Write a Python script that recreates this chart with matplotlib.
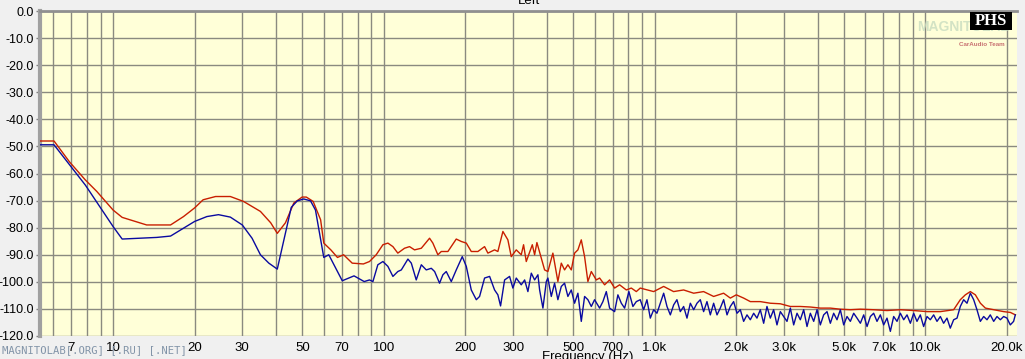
import matplotlib
matplotlib.use("Agg")
import matplotlib.pyplot as plt
from matplotlib.patches import Rectangle

# --- data (frequency in Hz, level in dB)
red_freq = [5.0, 6.05, 6.9, 7.9, 8.7, 10.0, 10.8, 13.3, 16.3, 18.2, 20.0, 21.5, 23.9, 27.1,
            30.3, 35.0, 38.2, 40.4, 43.3, 46.5, 49.9, 51.7, 54.8, 58.4, 60.0, 63.7, 67.4,
            71.0, 76.4, 84.0,
            88.5, 93.7, 99.2, 103.5, 108.0, 112.6, 119.2, 124.4, 129.8, 137.5, 147.5, 151.7,
            158.3, 163.0, 172.4, 185.1, 193.2, 201.6, 210.3, 222.5, 235.5, 242.2, 256.4,
            263.7, 275.2, 287.1, 295.5, 308.3, 321.7, 328.1, 335.7, 353.4, 360.4, 367.5,
            381.5, 392.4, 403.5, 421.0, 439.3, 452.2, 465.0, 478.3, 492.3, 506.3, 520.8,
            536.0, 551.3, 567.0, 583.7, 609.0, 626.4, 653.6, 682.0, 711.6, 742.5, 786.1,
            820.2, 855.9,
            885, 992, 1080, 1175, 1280, 1394, 1517, 1652, 1798, 1904, 2003, 2132, 2257,
            2457, 2675, 2913, 3172, 3453, 3760, 4093, 4457, 4853, 5284, 5754, 6442, 7220,
            8085, 9057, 10150, 11360, 12720, 13460, 14050, 14660, 15300, 15970, 16660,
            17880, 19470, 20610, 21500]
red_db = [-48.0, -48.0, -55.7, -62.4, -66.6, -73.5, -76.2, -79.0, -79.0, -75.9, -72.7, -69.7,
          -68.5, -68.5, -70.3, -74.0, -78.2, -82.1, -78.2, -70.9, -68.7, -68.7, -70.3, -77.1,
          -85.7, -88.2, -91.0, -90.0, -93.1, -93.4,
          -92.5, -90.0, -86.3, -85.7, -87.0, -89.4, -87.6, -87.0, -88.2, -87.6, -83.9, -85.7,
          -90.0, -88.8, -88.8, -84.2, -85.1, -85.7, -88.8, -88.8, -87.0, -89.4, -88.2,
          -88.8, -81.4, -84.5, -90.7, -88.2, -90.0, -86.3, -92.5, -86.3, -90.0, -85.5,
          -91.3, -95.6, -96.2, -89.4, -99.9, -93.1, -95.6, -93.7, -95.6, -89.4, -88.2,
          -84.5, -90.7, -99.9, -96.2, -99.3, -98.6, -101.1, -99.3, -102.3, -101.1, -103.0,
          -102.3, -103.6,
          -102.3, -103.6, -101.7, -103.6, -103.0, -104.2, -103.6, -105.4, -104.2, -106.0,
          -104.8, -106.0, -107.3, -107.3, -107.9, -108.1, -109.1, -109.1, -109.3, -109.7,
          -109.7, -110.1, -110.3, -110.1, -110.3, -110.6, -110.3, -110.6, -111.0, -111.0,
          -110.3, -106.6, -104.8, -103.6, -104.8, -107.9, -109.7, -110.3, -111.0, -111.3,
          -112.2]

blue_freq = [5.0, 6.05, 7.9, 10.0, 10.8, 14.5, 16.3, 18.2, 20.0, 22.2, 24.5, 27.1, 30.0,
             32.6, 35.0, 37.6, 40.4, 45.5, 47.9, 50.6, 53.6, 55.9, 60.0, 62.6, 70.2, 77.6,
             84.6,
             88.5, 91.1, 95.0, 99.2, 103.5, 108.0, 112.6, 116.0, 122.7, 126.3, 131.7, 137.5,
             143.4, 149.7, 154.0, 160.6, 165.2, 170.0, 177.4, 185.1, 194.8, 201.6, 210.3,
             219.5, 225.7, 235.5, 245.8, 256.4, 263.7, 269.8, 279.2, 291.3, 299.6, 308.3,
             321.7, 331.1, 340.4, 350.4, 360.4, 370.7, 376.1, 386.8, 398.1, 403.5, 415.3,
             427.1, 439.3, 452.2, 465.0, 478.3, 492.3, 506.3, 520.8, 536.0, 551.3, 567.0,
             583.7, 600.1, 626.4, 644.2, 663.1, 682.0, 711.6, 731.8, 753.4, 774.8, 803.5,
             831.4, 855.9,
             885, 911, 937, 964, 992, 1020, 1050, 1080, 1111, 1143, 1176, 1209, 1244, 1280,
             1317, 1355, 1394, 1434, 1475, 1517, 1561, 1606, 1652, 1700, 1748, 1799, 1851,
             1904, 1958, 2015, 2073, 2132, 2194, 2257, 2322, 2388, 2457, 2528, 2600, 2675,
             2752, 2831, 2913, 2997, 3083, 3172, 3263, 3357, 3453, 3553, 3655, 3760, 3869,
             3980, 4093, 4211, 4333, 4457, 4585, 4717, 4853, 4993, 5136, 5284, 5436, 5593,
             5754, 5919, 6090, 6265, 6442, 6628, 6819, 7015, 7217, 7425, 7638, 7858, 8084,
             8317, 8556, 8802, 9055, 9312, 9579, 9855, 10140, 10430, 10730, 11040, 11360,
             11680, 12020, 12360, 12720, 13090, 13460, 13850, 14250, 14660, 15080, 15510,
             15960, 16420, 16890, 17370, 17880, 18390, 18920, 19460, 20020, 20590, 21180,
             21490]
blue_db = [-49.4, -49.4, -64.3, -79.6, -84.2, -83.6, -83.1, -80.2, -77.7, -75.9, -75.2, -76.1,
           -79.0, -83.9, -90.0, -93.1, -95.3, -72.5, -70.1, -69.4, -70.1, -73.5, -91.0, -90.0,
           -99.6, -97.8, -99.9,
           -99.3, -99.9, -93.7, -92.5, -94.3, -98.0, -96.2, -95.6, -91.6, -93.1, -99.3, -93.7,
           -95.6, -95.0, -96.2, -100.5, -97.4, -96.2, -99.9, -95.6, -90.7, -94.3, -103.0,
           -106.6, -105.4, -98.6, -98.0, -103.0, -104.8, -108.9, -99.3, -98.0, -102.3, -98.6,
           -101.1, -99.3, -103.6, -96.8, -99.3, -97.4, -103.0, -109.7, -99.9, -98.6, -105.4,
           -100.5, -106.6, -101.7, -100.5, -105.4, -103.0, -107.9, -104.2, -114.6, -105.4,
           -106.6, -109.1, -106.6, -109.7, -107.3, -103.6, -109.7, -111.0, -104.8, -107.9,
           -109.7, -103.6, -109.1, -107.3,
           -106.6, -110.3, -106.6, -113.4, -110.3, -111.6, -107.9, -104.2, -109.1, -112.2,
           -108.5, -106.6, -111.0, -109.1, -113.4, -107.9, -110.3, -107.9, -106.6, -111.0,
           -107.3, -112.2, -107.9, -112.2, -109.7, -106.6, -112.2, -109.1, -107.3, -111.6,
           -110.3, -114.6, -112.2, -114.0, -111.6, -113.4, -110.3, -115.3, -109.1, -113.4,
           -110.3, -115.9, -111.0, -112.8, -114.6, -109.7, -115.9, -111.6, -114.0, -110.3,
           -116.5, -111.6, -114.6, -110.3, -115.9, -112.2, -111.0, -115.3, -111.6, -114.0,
           -110.3, -115.9, -112.8, -114.6, -111.6, -113.4, -115.3, -112.2, -116.5, -112.8,
           -111.6, -114.6, -112.2, -115.9, -113.4, -118.3, -112.8, -114.6, -111.6, -114.0,
           -112.2, -115.3, -111.6, -114.6, -112.2, -116.5, -112.8, -114.0, -112.2, -114.6,
           -112.8, -115.3, -113.4, -117.1, -114.0, -113.4, -109.1, -106.6, -107.9, -104.2,
           -106.6, -110.3, -114.6, -112.8, -114.0, -112.2, -114.6, -112.8, -114.0, -112.8,
           -113.4, -115.9, -114.6, -112.2]

tick_freqs = [7, 10, 20, 30, 50, 70, 100, 200, 300, 500, 700,
              1000, 2000, 3000, 5000, 7000, 10000, 20000]
tick_labels = ["7", "10", "20", "30", "50", "70", "100", "200", "300", "500", "700",
               "1.0k", "2.0k", "3.0k", "5.0k", "7.0k", "10.0k", "20.0k"]
db_ticks = [0, -10, -20, -30, -40, -50, -60, -70, -80, -90, -100, -110, -120]

plt.rcParams['font.family'] = ['Liberation Sans', 'DejaVu Sans']

W, H = 1025, 359
fig = plt.figure(figsize=(W / 100, H / 100), dpi=100, facecolor='#F0F0F0')
ax = fig.add_axes([40 / W, 23 / H, 977 / W, 325 / H])
ax.set_facecolor('#FFFFD8')

ax.plot(red_freq, red_db, color='#C81E00', lw=1.0, zorder=3)
ax.plot(blue_freq, blue_db, color='#0A0AA0', lw=1.0, zorder=4)

ax.set_xscale('log')
ax.set_xlim(5.37, 21800)
ax.set_ylim(-120, 0)

# grid lines at every 1..9 step of each decade
minor = [m * 10 ** e for e in range(0, 5) for m in range(1, 10)]
minor = [f for f in minor if 5.5 < f < 21000 and f not in tick_freqs]
ax.set_xticks(tick_freqs)
ax.set_xticklabels(tick_labels)
ax.set_xticks(minor, minor=True)
ax.tick_params(axis='x', which='both', length=0, pad=4, labelsize=9.5, colors='black')
ax.set_yticks(db_ticks)
ax.set_yticklabels(["%.1f" % v if v == 0 else "-%.1f" % abs(v) for v in db_ticks])
ax.tick_params(axis='y', length=3, width=1, color='#808080', pad=1.5, labelsize=9)
ax.grid(True, which='both', color='#8A8A80', lw=1.0, zorder=1)
ax.set_axisbelow(True)

for side in ['right', 'bottom']:
    ax.spines[side].set_visible(False)
ax.spines['left'].set_color('#A0A0A0')
ax.spines['left'].set_linewidth(3)
ax.spines['top'].set_color('#909090')
ax.spines['top'].set_linewidth(2)

fig.text(529 / W, 1 - 1 / H, "Left", ha='center', va='center', fontsize=9.5)
fig.text(588 / W, 1 - 357 / H, "Frequency (Hz)", ha='center', va='center', fontsize=9.5)
fig.text(2 / W, 1 - 350 / H, "MAGNITOLAB[.ORG] [.RU] [.NET]", ha='left', va='center',
         fontsize=7.6, color='#8294A8', family='DejaVu Sans Mono')

# logo in the top right corner
fig.text(964 / W, 1 - 27 / H, "MAGNITOLAB", ha='center', va='center', fontsize=10,
         color='#C8DCC0', fontweight='bold', alpha=0.8)
fig.patches.append(Rectangle((970 / W, 1 - 30 / H), 42 / W, 18 / H,
                             transform=fig.transFigure, facecolor='black', zorder=5))
fig.text(991 / W, 1 - 21 / H, "PHS", ha='center', va='center', fontsize=12,
         color='white', family='Liberation Serif', fontweight='bold', zorder=6)
fig.text(982 / W, 1 - 44 / H, "CarAudio Team", ha='center', va='center', fontsize=4.5,
         color='#C87070', fontweight='bold')

fig.savefig('out.png', dpi=100, facecolor=fig.get_facecolor())
